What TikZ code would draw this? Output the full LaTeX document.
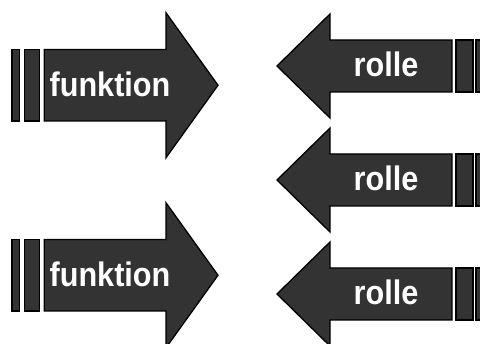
\documentclass[tikz,border=0pt]{standalone}
\usepackage{fontspec}
\setmainfont{Liberation Sans}
\newfontfamily\lblfont{Liberation Sans}[FakeStretch=0.9]
\begin{document}
\begin{tikzpicture}[x=1pt,y=-1pt,
  shapefill/.style={fill=black!80, draw=black, line width=1.3pt, line join=miter},
  lbl/.style={anchor=base, text=white, inner sep=0pt, font=\lblfont\bfseries\fontsize{34}{34}\selectfont},
  funk/.pic={
    \path[shapefill] (44.3,-35.75) -- (166,-35.75) -- (166,-72.5) -- (218,0)
      -- (166,72.5) -- (166,35.75) -- (44.3,35.75) -- cycle;
    \path[shapefill] (12,-35.75) rectangle (19.3,35.75);
    \path[shapefill] (24.3,-35.75) rectangle (39.3,35.75);
    \node[lbl] (-label) at (110,11) {funktion};
  },
  rol/.pic={
    \path[shapefill] (452,-26) -- (330,-26) -- (330,-52) -- (277,0)
      -- (330,52) -- (330,26) -- (452,26) -- cycle;
    \path[shapefill] (456,-26) rectangle (473,26);
    \path[shapefill] (476,-26) rectangle (492,26);
    \node[lbl] (-label) at (386,11) {rolle};
  }]
\useasboundingbox (0,0) rectangle (480,344);
\begin{scope}
\clip (0,0) rectangle (480,344);
\pic (f1) at (0,85.25) {funk};
\pic (f2) at (0,275.25) {funk};
\pic (r1) at (0,66) {rol};
\pic (r2) at (0,180) {rol};
\pic (r3) at (0,294) {rol};
\end{scope}
\end{tikzpicture}
\end{document}
